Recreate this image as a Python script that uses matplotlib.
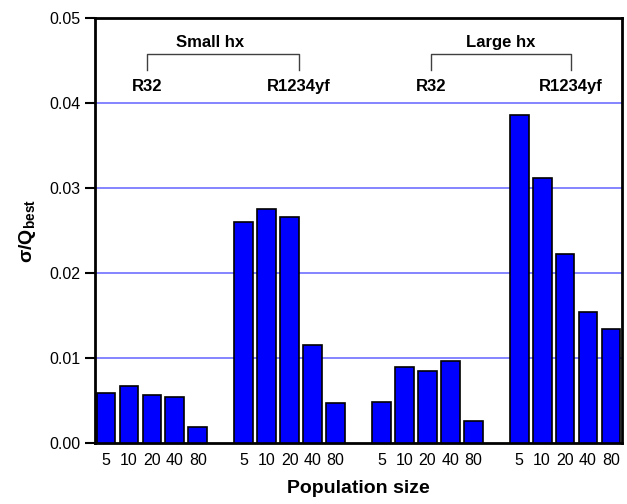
import matplotlib.pyplot as plt
import numpy as np

plt.rcParams['font.family'] = ['Liberation Sans', 'DejaVu Sans']
plt.rcParams['mathtext.fontset'] = 'custom'
plt.rcParams['mathtext.rm'] = 'Liberation Sans'
plt.rcParams['mathtext.bf'] = 'Liberation Sans:bold'

# sigma / Q_best for each population size, per refrigerant and heat exchanger
pop_sizes = ['5', '10', '20', '40', '80']
small_r32 = [0.00585, 0.00667, 0.00565, 0.00545, 0.00192]
small_r1234yf = [0.0260, 0.0275, 0.0266, 0.0115, 0.00474]
large_r32 = [0.00486, 0.00894, 0.00843, 0.00961, 0.00255]
large_r1234yf = [0.0386, 0.0312, 0.0223, 0.0154, 0.0134]

groups = [small_r32, small_r1234yf, large_r32, large_r1234yf]

fig = plt.figure(figsize=(6.27, 5.04), dpi=100)
ax = fig.add_axes([0.1515, 0.121, 0.8405, 0.843])

xpos = []
heights = []
labels = []
for g, vals in enumerate(groups):
    for i, v in enumerate(vals):
        xpos.append(g * 6 + i)
        heights.append(v)
        labels.append(pop_sizes[i])

ax.bar(xpos, heights, width=0.82, color='#0000ff', edgecolor='black',
       linewidth=1.2, zorder=3)

ax.set_xlim(-0.48, 22.48)
ax.set_ylim(0, 0.05)
ax.set_yticks(np.arange(0, 0.051, 0.01))
ax.set_yticklabels(['0.00', '0.01', '0.02', '0.03', '0.04', '0.05'])
ax.set_xticks(xpos)
ax.set_xticklabels(labels)
ax.tick_params(axis='x', length=0, pad=7, labelsize=11.5)
ax.tick_params(axis='y', direction='out', length=7, width=1.5, labelsize=11.5)

for v in [0.01, 0.02, 0.03, 0.04]:
    ax.axhline(v, color='#7070ff', linewidth=1.2, zorder=1)

for s in ax.spines.values():
    s.set_linewidth(2)

ax.set_xlabel('Population size', fontsize=14, fontweight='bold', labelpad=9)
ax.set_ylabel(r'σ/Q$_{\mathbf{best}}$', fontsize=14, fontweight='bold',
              labelpad=8)

# group brackets
def bracket(x0, x1, title, tx):
    ax.plot([x0, x0, x1, x1], [0.0439, 0.0458, 0.0458, 0.0439],
            color='#404040', linewidth=1.0, zorder=4)
    ax.text(tx, 0.0471, title, ha='center', va='center',
            fontsize=12, fontweight='bold')
    ax.text(x0, 0.0420, 'R32', ha='center', va='center',
            fontsize=12, fontweight='bold')
    ax.text(x1, 0.0420, 'R1234yf', ha='center', va='center',
            fontsize=12, fontweight='bold')

bracket(1.78, 8.39, 'Small hx', 4.52)
bracket(14.17, 20.26, 'Large hx', 17.2)

fig.savefig('out.png', dpi=100)
